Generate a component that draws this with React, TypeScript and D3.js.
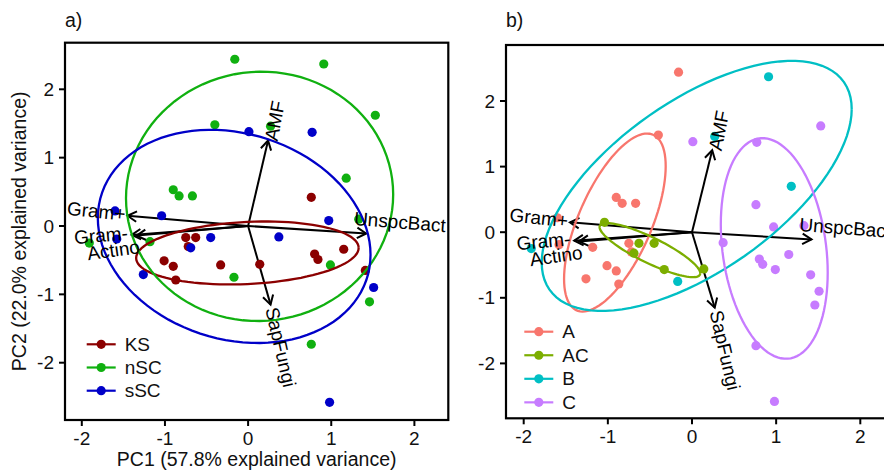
import React from "react";
import * as d3 from "d3";

// PCA scores (same samples in both panels)
const pc1 = [
  -0.16, 0.91, 1.53, -0.4, 0.01, 0.27, 0.77, 1.18, -0.9, -0.83, -0.67, 0.76, -1.6, -1.04,
  0.97, 1.33, -1.58, -1.91, -1.18, -0.75, -0.63, -0.45, -0.72, -0.69, 0.37, -1.01, -0.9,
  -0.33, 0.14, -0.87, -0.17, -1.26, 0.8, 0.84, 1.15, 0.99, 1.41, 1.51, 1.46, 0.76, 0.98,
];
const pc2 = [
  2.44, 2.37, 1.62, 1.48, 1.38, 1.46, 1.37, 0.7, 0.53, 0.44, 0.44, 0.42, 0.22, 0.15,
  0.08, 0.1, -0.19, -0.25, -0.23, -0.17, -0.17, -0.17, -0.3, -0.32, -0.16, -0.51, -0.59,
  -0.57, -0.56, -0.79, -0.75, -0.71, -0.41, -0.49, -0.34, -0.57, -0.65, -0.9, -1.11, -1.73, -2.58,
];
const site = [
  "nSC", "nSC", "nSC", "nSC", "sSC", "nSC", "sSC", "nSC", "nSC", "nSC", "nSC", "KS", "sSC", "sSC",
  "sSC", "nSC", "sSC", "nSC", "nSC", "KS", "KS", "sSC", "KS", "sSC", "sSC", "KS", "KS",
  "KS", "KS", "KS", "nSC", "sSC", "KS", "KS", "KS", "nSC", "KS", "sSC", "nSC", "nSC", "sSC",
];
const soil = [
  "A", "B", "C", "A", "C", "B", "C", "B", "A", "A", "A", "C", "A", "AC",
  "C", "C", "A", "B", "A", "A", "AC", "AC", "A", "AC", "C", "A", "A",
  "AC", "AC", "A", "B", "A", "C", "C", "C", "C", "C", "C", "C", "C", "C",
];

const siteLevels = ["KS", "nSC", "sSC"];
const soilLevels = ["A", "AC", "B", "C"];

// loadings (arrow tips)
const varNames = ["AMF", "SapFungi", "UnspcBact", "Gram+", "Gram-", "Actino"];
const varPC1 = [0.24, 0.27, 1.42, -1.45, -1.4, -1.34];
const varPC2 = [1.25, -1.15, -0.11, 0.15, -0.13, -0.14];

const ticks = [-2, -1, 0, 1, 2];

// styling / layout
const siteColors = ["#8B0000", "#10B010", "#0000C8"];
const soilColors = ["#F8766D", "#7CAE00", "#00BFC4", "#C77CFF"];
const FONT = "'Liberation Sans', Arial, Helvetica, sans-serif";
// label anchor offsets from the arrow tip, in px: [dx, dy, anchor, rotation]
const labelLayout: [number, number, string, number][] = [
  [3, 0, "start", -79],
  [1, 3, "start", 77],
  [-12, -15, "start", 4.4],
  [-2, -1.5, "end", 5.9],
  [-4, -2, "end", -5.3],
  [3, 11, "end", -8],
];

type Panel = {
  tag: string;
  x0: number; x1: number; y0: number; y1: number;
  xDom: [number, number]; yDom: [number, number];
  groups: string[]; levels: string[]; colors: string[];
  legendX: number; legendY: number; legendStep: number;
  titles: boolean;
};

const panels: Panel[] = [
  {
    tag: "a)", x0: 65, x1: 448.3, y0: 42.7, y1: 420,
    xDom: [(65 - 248.1) / 83.15, (448.3 - 248.1) / 83.15],
    yDom: [(226 - 420) / 68.35, (226 - 42.7) / 68.35],
    groups: site, levels: siteLevels, colors: siteColors,
    legendX: 86.7, legendY: 344.3, legendStep: 23.2, titles: true,
  },
  {
    tag: "b)", x0: 506, x1: 895, y0: 45, y1: 418.3,
    xDom: [(506 - 692) / 84.15, (895 - 692) / 84.15],
    yDom: [(232.2 - 418.3) / 65.6, (232.2 - 45) / 65.6],
    groups: soil, levels: soilLevels, colors: soilColors,
    legendX: 524.3, legendY: 331.7, legendStep: 23.55, titles: false,
  },
];

function ellipse(xs: number[], ys: number[]): [number, number][] {
  const n = xs.length;
  const mx = d3.mean(xs) as number;
  const my = d3.mean(ys) as number;
  let a = 0, b = 0, c = 0;
  for (let i = 0; i < n; i++) {
    a += (xs[i] - mx) ** 2;
    b += (xs[i] - mx) * (ys[i] - my);
    c += (ys[i] - my) ** 2;
  }
  a /= n - 1; b /= n - 1; c /= n - 1;
  const r11 = Math.sqrt(a);
  const r12 = b / r11;
  const r22 = Math.sqrt(Math.max(c - r12 * r12, 0));
  const ed = Math.sqrt(-2 * Math.log(1 - 0.68));
  return d3.range(101).map((i) => {
    const t = (2 * Math.PI * i) / 100;
    const ct = Math.cos(t), st = Math.sin(t);
    return [mx + ed * ct * r11, my + ed * (ct * r12 + st * r22)];
  });
}

function PanelView({ p }: { p: Panel }) {
  const x = d3.scaleLinear().domain(p.xDom).range([p.x0, p.x1]);
  const y = d3.scaleLinear().domain(p.yDom).range([p.y1, p.y0]);
  const line = d3.line<[number, number]>().x((d) => x(d[0])).y((d) => y(d[1]));
  const color = d3.scaleOrdinal<string, string>().domain(p.levels).range(p.colors);

  return (
    <g>
      <text x={p.x0} y={27} fontSize={19.5} fontFamily={FONT} fill="#111">{p.tag}</text>
      {/* arrows */}
      {varNames.map((v, i) => {
        const tx = x(varPC1[i]), ty = y(varPC2[i]);
        const ox = x(0), oy = y(0);
        const ang = Math.atan2(ty - oy, tx - ox);
        const L = 10.5, spread = Math.PI / 6;
        const h1 = [tx - L * Math.cos(ang - spread), ty - L * Math.sin(ang - spread)];
        const h2 = [tx - L * Math.cos(ang + spread), ty - L * Math.sin(ang + spread)];
        return (
          <g key={v} stroke="#000" strokeWidth={2} fill="none">
            <line x1={ox} y1={oy} x2={tx} y2={ty} />
            <polyline points={`${h1[0]},${h1[1]} ${tx},${ty} ${h2[0]},${h2[1]}`} />
          </g>
        );
      })}
      {/* points */}
      {pc1.map((v, i) => (
        <circle key={i} cx={x(v)} cy={y(pc2[i])} r={4.6} fill={color(p.groups[i])} />
      ))}
      {/* ellipses */}
      {p.levels.map((lv) => {
        const idx = d3.range(pc1.length).filter((i) => p.groups[i] === lv);
        const pts = ellipse(idx.map((i) => pc1[i]), idx.map((i) => pc2[i]));
        return <path key={lv} d={line(pts) as string} fill="none" stroke={color(lv)} strokeWidth={2.3} />;
      })}
      {/* variable labels */}
      {varNames.map((v, i) => {
        const [dx, dy, anchor, rot] = labelLayout[i];
        const lx = x(varPC1[i]) + dx, ly = y(varPC2[i]) + dy;
        return (
          <text key={v} x={lx} y={ly} textAnchor={anchor} dominantBaseline="central"
            transform={`rotate(${rot},${lx},${ly})`} fontSize={19} fontFamily={FONT} fill="#000">
            {v}
          </text>
        );
      })}
      {/* frame */}
      <rect x={p.x0} y={p.y0} width={p.x1 - p.x0} height={p.y1 - p.y0} fill="none" stroke="#000" strokeWidth={2.2} />
      {/* axes */}
      {ticks.map((t) => (
        <g key={"x" + t}>
          <line x1={x(t)} x2={x(t)} y1={p.y1} y2={p.y1 + 6} stroke="#000" strokeWidth={2} />
          <text x={x(t)} y={p.y1 + 25} textAnchor="middle" fontSize={19} fontFamily={FONT} fill="#111">{t}</text>
        </g>
      ))}
      {ticks.map((t) => (
        <g key={"y" + t}>
          <line x1={p.x0 - 6} x2={p.x0} y1={y(t)} y2={y(t)} stroke="#000" strokeWidth={2} />
          <text x={p.x0 - 11} y={y(t)} textAnchor="end" dominantBaseline="central" fontSize={19} fontFamily={FONT} fill="#111">{t}</text>
        </g>
      ))}
      {p.titles && (
        <>
          <text x={(p.x0 + p.x1) / 2} y={466} textAnchor="middle" fontSize={19.5} fontFamily={FONT} fill="#111">
            PC1 (57.8% explained variance)
          </text>
          <text x={26} y={(p.y0 + p.y1) / 2} textAnchor="middle" transform={`rotate(-90,26,${(p.y0 + p.y1) / 2})`}
            fontSize={19.5} fontFamily={FONT} fill="#111">
            PC2 (22.0% explained variance)
          </text>
        </>
      )}
      {/* legend */}
      {p.levels.map((lv, i) => {
        const ly = p.legendY + i * p.legendStep;
        return (
          <g key={"lg" + lv}>
            <line x1={p.legendX} x2={p.legendX + 29} y1={ly} y2={ly} stroke={color(lv)} strokeWidth={2.2} />
            <circle cx={p.legendX + 14.5} cy={ly} r={4.6} fill={color(lv)} />
            <text x={p.legendX + 38} y={ly} dominantBaseline="central" fontSize={19} fontFamily={FONT} fill="#111">{lv}</text>
          </g>
        );
      })}
    </g>
  );
}

export default function App() {
  return (
    <svg width={884} height={475} style={{ position: "absolute", left: 0, top: 0, background: "#fff" }}>
      <rect width={884} height={475} fill="#fff" />
      {panels.map((p) => (
        <PanelView key={p.tag} p={p} />
      ))}
    </svg>
  );
}
